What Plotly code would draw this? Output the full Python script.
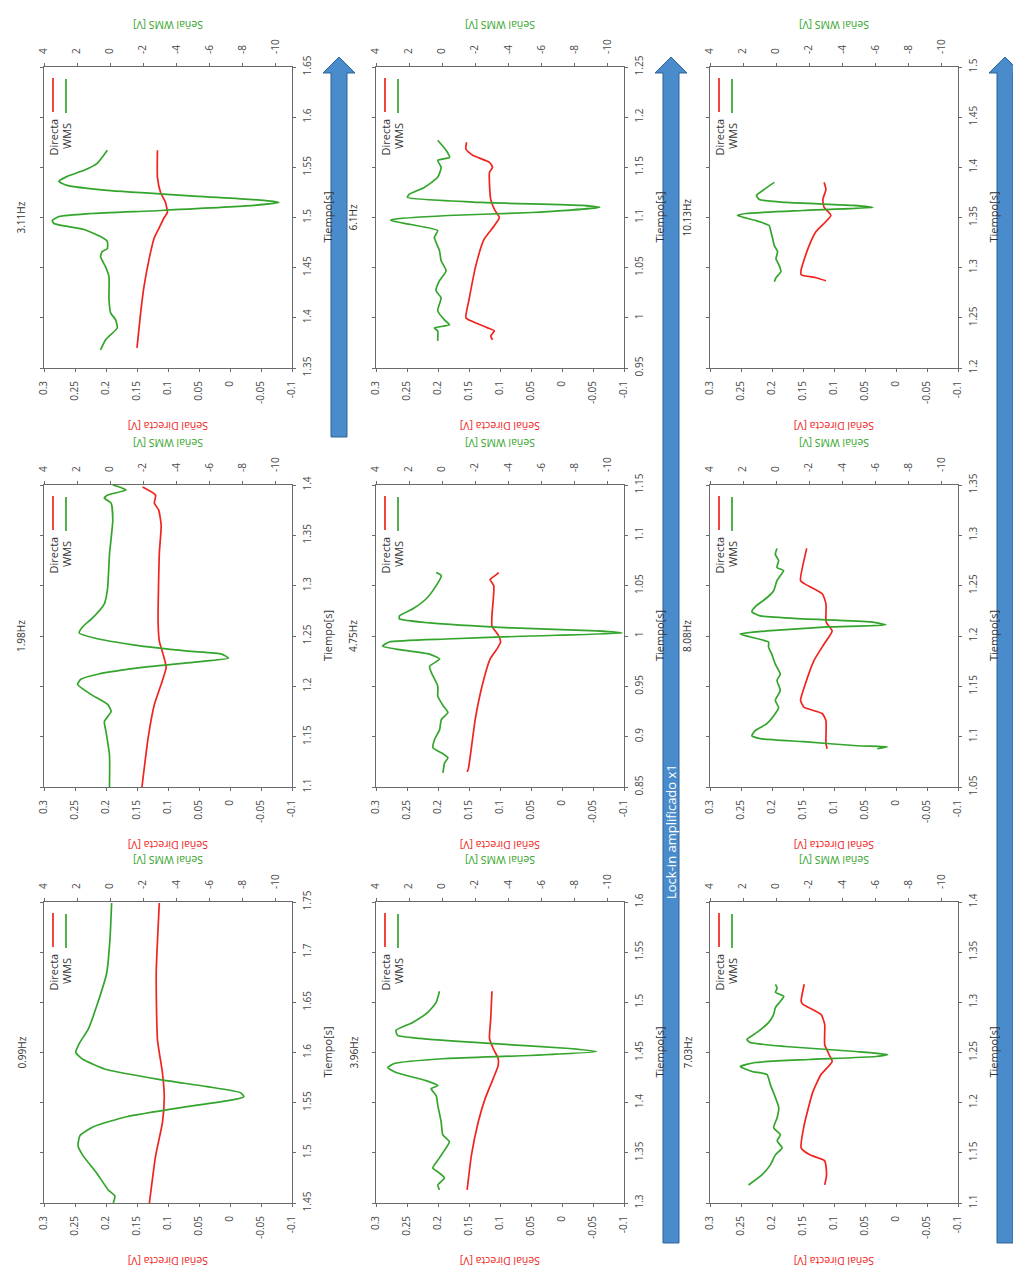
import plotly.graph_objects as go

# ---------------- data ----------------
FREQ_LABELS = ["3.11Hz", "1.98Hz", "0.99Hz", "6.1Hz", "4.75Hz", "3.96Hz", "10.13Hz", "8.08Hz", "7.03Hz"]
TIME_STARTS = [1.35, 1.10, 1.45, 0.95, 0.85, 1.30, 1.20, 1.05, 1.10]

SIG_TICKS = [0.3, 0.25, 0.2, 0.15, 0.1, 0.05, 0, -0.05, -0.1]
SIG_TEXT = ["0.3", "0.25", "0.2", "0.15", "0.1", "0.05", "0", "-0.05", "-0.1"]
WMS_TICKS = [4, 2, 0, -2, -4, -6, -8, -10]
WMS_TEXT = ["4", "2", "0", "-2", "-4", "-6", "-8", "-10"]

# Panel 1: 3.11 Hz
P1_T_DIR = [1.37, 1.40, 1.43, 1.46, 1.48, 1.49, 1.50, 1.505, 1.515, 1.525, 1.54, 1.567]
P1_DIR = [0.150, 0.145, 0.139, 0.130, 0.122, 0.114, 0.106, 0.101, 0.104, 0.112, 0.117, 0.117]
P1_T_WMS = [1.368, 1.378, 1.390, 1.398, 1.405, 1.418, 1.441, 1.451, 1.461, 1.466, 1.469, 1.476, 1.481,
            1.488, 1.494, 1.497, 1.501, 1.504, 1.507, 1.512, 1.515, 1.517, 1.521, 1.527, 1.532, 1.536,
            1.541, 1.547, 1.554, 1.560, 1.567]
P1_WMS = [0.58, 0.28, -0.43, -0.33, -0.03, 0.07, 0.07, 0.28, 0.58, 0.48, 0.17, 0.17, 0.58,
          1.58, 3.4, 3.5, 3.1, 1.18, -3.05, -8.68, -10.2, -9.3, -5.46, 0.17, 2.6, 3.1,
          2.6, 1.58, 0.78, 0.48, 0.17]

# Panel 2: 1.98 Hz
P2_T_DIR = [1.10, 1.149, 1.182, 1.202, 1.219, 1.232, 1.245, 1.265, 1.332, 1.36, 1.375, 1.382, 1.39, 1.398]
P2_DIR = [0.142, 0.132, 0.122, 0.111, 0.103, 0.108, 0.114, 0.116, 0.114, 0.111, 0.115, 0.122, 0.120, 0.141]
P2_T_WMS = [1.100, 1.132, 1.155, 1.165, 1.175, 1.182, 1.192, 1.202, 1.207, 1.212, 1.219, 1.225, 1.228,
            1.232, 1.235, 1.241, 1.248, 1.253, 1.259, 1.268, 1.282, 1.298, 1.331, 1.365, 1.382, 1.387,
            1.390, 1.395, 1.398, 1.400]
P2_WMS = [0.04, 0.04, 0.25, 0.35, -0.06, 0.15, 1.16, 1.97, 1.77, 0.75, -2.08, -5.74, -7.16,
          -6.75, -4.72, -1.48, 0.96, 1.87, 1.67, 1.06, 0.35, 0.15, 0.04, -0.16, -0.06, 0.35,
          0.15, -0.97, -0.56, -0.16]

# Panel 3: 0.99 Hz
P3_T_DIR = [1.45, 1.497, 1.53, 1.556, 1.58, 1.613, 1.679, 1.749]
P3_DIR = [0.130, 0.120, 0.109, 0.106, 0.109, 0.117, 0.119, 0.114]
P3_T_WMS = [1.450, 1.457, 1.463, 1.480, 1.497, 1.507, 1.517, 1.526, 1.536, 1.546, 1.553, 1.556, 1.560,
            1.566, 1.573, 1.583, 1.593, 1.600, 1.610, 1.623, 1.646, 1.679, 1.713, 1.749]
P3_WMS = [-0.19, -0.29, 0.11, 0.82, 1.63, 1.94, 1.83, 1.02, -1.0, -4.64, -7.48, -8.09, -7.88,
          -5.86, -3.02, 0.21, 1.63, 2.08, 1.83, 1.33, 0.82, 0.21, 0.01, -0.09]

# Panel 4: 6.1 Hz
P4_T_DIR = [0.978, 0.982, 0.987, 0.990, 0.997, 1.000, 1.018, 1.052, 1.078, 1.092, 1.100, 1.108, 1.118,
            1.145, 1.150, 1.155, 1.162, 1.168, 1.175]
P4_DIR = [0.112, 0.115, 0.109, 0.120, 0.147, 0.155, 0.150, 0.139, 0.126, 0.109, 0.101, 0.109, 0.115,
          0.117, 0.112, 0.117, 0.144, 0.155, 0.154]
P4_T_WMS = [0.977, 0.987, 0.990, 0.993, 0.998, 1.007, 1.020, 1.027, 1.037, 1.047, 1.057, 1.067, 1.080,
            1.087, 1.093, 1.097, 1.098, 1.102, 1.105, 1.110, 1.112, 1.115, 1.120, 1.123, 1.130, 1.140,
            1.150, 1.157, 1.160, 1.167, 1.177]
P4_WMS = [0.27, 0.27, 0.47, -0.45, -0.14, 0.27, 0.06, 0.37, 0.16, -0.24, 0.06, 0.16, 0.47,
          0.27, 1.9, 3.12, 3.0, -0.35, -5.45, -9.53, -8.5, -2.39, 2.1, 2.0, 1.08, 0.27,
          0.06, 0.27, -0.45, -0.24, 0.27]

# Panel 5: 4.75 Hz
P5_T_DIR = [0.865, 0.868, 0.917, 0.950, 0.977, 0.987, 0.994, 1.000, 1.010, 1.020, 1.050, 1.056, 1.060, 1.063]
P5_DIR = [0.153, 0.151, 0.140, 0.129, 0.116, 0.105, 0.099, 0.102, 0.113, 0.113, 0.110, 0.116, 0.108, 0.102]
P5_T_WMS = [0.864, 0.874, 0.879, 0.884, 0.889, 0.897, 0.907, 0.917, 0.924, 0.931, 0.940, 0.950, 0.964,
            0.970, 0.977, 0.982, 0.987, 0.990, 0.994, 0.997, 1.000, 1.003, 1.005, 1.008, 1.013, 1.017,
            1.020, 1.027, 1.037, 1.050, 1.060, 1.063]
P5_WMS = [-0.05, -0.15, -0.35, 0.05, 0.56, 0.46, 0.15, 0.05, -0.35, -0.05, 0.26, 0.26, 0.66,
          0.76, 0.15, 0.76, 2.79, 3.6, 3.2, -0.25, -5.31, -10.88, -9.36, -4.3, 0.76, 2.58,
          2.58, 1.77, 0.96, 0.36, 0.05, 0.36]

# Panel 6: 3.96 Hz
P6_T_DIR = [1.313, 1.348, 1.381, 1.404, 1.424, 1.437, 1.444, 1.454, 1.464, 1.483, 1.511]
P6_DIR = [0.153, 0.146, 0.135, 0.124, 0.111, 0.103, 0.103, 0.111, 0.117, 0.115, 0.113]
P6_T_WMS = [1.313, 1.318, 1.325, 1.331, 1.335, 1.345, 1.355, 1.361, 1.368, 1.381, 1.397, 1.407, 1.414,
            1.417, 1.422, 1.430, 1.435, 1.439, 1.444, 1.447, 1.451, 1.454, 1.459, 1.464, 1.467, 1.472,
            1.480, 1.490, 1.500, 1.511]
P6_WMS = [0.16, 0.26, -0.14, 0.26, 0.57, 0.16, -0.24, -0.44, -0.04, 0.06, 0.26, 0.36, 0.67,
          0.26, 0.97, 2.79, 3.29, 2.89, -0.24, -5.29, -9.33, -7.72, -2.87, 1.37, 2.69, 2.79,
          1.78, 0.87, 0.36, 0.16]

# Panel 7: 10.13 Hz
P7_T_DIR = [1.287, 1.290, 1.293, 1.298, 1.319, 1.336, 1.346, 1.352, 1.355, 1.360, 1.368, 1.378, 1.385]
P7_DIR = [0.113, 0.129, 0.153, 0.153, 0.142, 0.129, 0.113, 0.105, 0.108, 0.116, 0.118, 0.113, 0.116]
P7_T_WMS = [1.286, 1.290, 1.296, 1.302, 1.309, 1.316, 1.322, 1.329, 1.336, 1.342, 1.347, 1.352, 1.354,
            1.357, 1.360, 1.362, 1.365, 1.368, 1.372, 1.378, 1.385]
P7_WMS = [0.11, 0.01, -0.29, -0.19, 0.01, -0.09, 0.11, 0.21, 0.32, 0.42, 1.23, 2.34, 1.83,
          -1.61, -5.86, -4.64, -0.6, 1.02, 1.19, 0.72, 0.11]

# Panel 8: 8.08 Hz
P8_T_DIR = [1.088, 1.093, 1.116, 1.123, 1.129, 1.136, 1.149, 1.176, 1.192, 1.205, 1.212, 1.215, 1.232,
            1.242, 1.252, 1.255, 1.287]
P8_DIR = [0.111, 0.113, 0.113, 0.119, 0.148, 0.154, 0.148, 0.132, 0.116, 0.103, 0.111, 0.113, 0.113,
          0.119, 0.148, 0.154, 0.144]
P8_T_WMS = [1.088, 1.090, 1.091, 1.095, 1.098, 1.101, 1.106, 1.113, 1.123, 1.129, 1.136, 1.146, 1.156,
            1.162, 1.172, 1.182, 1.189, 1.194, 1.199, 1.202, 1.205, 1.209, 1.211, 1.214, 1.217, 1.220,
            1.224, 1.229, 1.238, 1.245, 1.255, 1.265, 1.268, 1.275, 1.281, 1.287]
P8_WMS = [-6.12, -6.73, -4.9, -1.67, 0.96, 1.47, 1.27, 0.56, 0.05, -0.15, 0.05, -0.25, -0.05,
          -0.25, 0.05, 0.26, 0.46, 0.46, 1.57, 2.18, 0.56, -3.09, -6.63, -5.72, -1.67, 0.96,
          1.47, 1.27, 0.56, 0.15, -0.05, -0.45, -0.05, -0.15, 0.05, -0.05]

# Panel 9: 7.03 Hz
P9_T_DIR = [1.118, 1.128, 1.142, 1.148, 1.155, 1.178, 1.211, 1.228, 1.241, 1.248, 1.258, 1.278, 1.288,
            1.298, 1.301, 1.318]
P9_DIR = [0.115, 0.112, 0.115, 0.139, 0.153, 0.148, 0.134, 0.121, 0.103, 0.108, 0.115, 0.115, 0.121,
          0.150, 0.153, 0.148]
P9_T_WMS = [1.118, 1.128, 1.138, 1.148, 1.155, 1.162, 1.168, 1.175, 1.185, 1.195, 1.205, 1.218, 1.228,
            1.231, 1.236, 1.240, 1.243, 1.246, 1.248, 1.251, 1.256, 1.260, 1.263, 1.270, 1.280, 1.288,
            1.295, 1.301, 1.306, 1.310, 1.314, 1.318]
P9_WMS = [1.67, 0.86, 0.35, 0.04, -0.36, -0.06, -0.26, 0.15, -0.06, -0.16, 0.04, 0.35, 0.55,
          1.46, 2.17, 1.26, -1.98, -6.04, -6.75, -4.82, -0.56, 1.57, 1.77, 1.16, 0.45, 0.15,
          0.04, -0.26, -0.46, 0.04, -0.06, 0.04]

PANELS = [
    (P1_T_DIR, P1_DIR, P1_T_WMS, P1_WMS),
    (P2_T_DIR, P2_DIR, P2_T_WMS, P2_WMS),
    (P3_T_DIR, P3_DIR, P3_T_WMS, P3_WMS),
    (P4_T_DIR, P4_DIR, P4_T_WMS, P4_WMS),
    (P5_T_DIR, P5_DIR, P5_T_WMS, P5_WMS),
    (P6_T_DIR, P6_DIR, P6_T_WMS, P6_WMS),
    (P7_T_DIR, P7_DIR, P7_T_WMS, P7_WMS),
    (P8_T_DIR, P8_DIR, P8_T_WMS, P8_WMS),
    (P9_T_DIR, P9_DIR, P9_T_WMS, P9_WMS),
]

# ---------------- layout geometry (pixels) ----------------
W, H = 1013, 1278
COLS = [(44, 292), (376, 624), (710, 958)]
ROWS = [(67, 368), (485, 787), (902, 1203)]

RED = "#f0241c"
GREEN = "#34a52c"
FRAME = "#6a6a6a"
TICKC = "#4a4a4a"
FONT = "Open Sans"


def px(x):
    return x / W


def py(y):
    return 1 - y / H


def fmt(v):
    s = f"{v:.2f}".rstrip("0").rstrip(".")
    return s


fig = go.Figure()
layout = dict(
    width=W, height=H,
    margin=dict(l=0, r=0, t=0, b=0, pad=0, autoexpand=False),
    paper_bgcolor="white", plot_bgcolor="white",
    showlegend=False,
    font=dict(family=FONT, size=10, color=TICKC),
)
annotations = []
shapes = []


def aname(kind, n):
    return kind if n == 1 else f"{kind}{n}"


for i, (t_dir, v_dir, t_wms, v_wms) in enumerate(PANELS):
    c, r = divmod(i, 3)
    left, right = COLS[c]
    top, bottom = ROWS[r]
    xa, xb, ya = 2 * i + 1, 2 * i + 2, i + 1
    xa_ref, xb_ref, ya_ref = aname("x", xa), aname("x", xb), aname("y", ya)
    t0 = TIME_STARTS[i]
    tvals = [round(t0 + 0.05 * k, 2) for k in range(7)]

    fig.add_trace(go.Scatter(x=v_dir, y=t_dir, mode="lines", xaxis=xa_ref, yaxis=ya_ref,
                             line=dict(color=RED, width=1.7, shape="spline", smoothing=0.5),
                             name="Directa"))
    fig.add_trace(go.Scatter(x=v_wms, y=t_wms, mode="lines", xaxis=xb_ref, yaxis=ya_ref,
                             line=dict(color=GREEN, width=1.7, shape="spline", smoothing=0.5),
                             name="WMS"))

    common = dict(showgrid=False, zeroline=False, showline=True, linecolor=FRAME, linewidth=1,
                  ticks="outside", ticklen=3, tickcolor=FRAME, tickangle=-90, automargin=False,
                  tickfont=dict(size=10, color=TICKC, family=FONT))
    layout[aname("xaxis", xa)] = dict(
        domain=[px(left), px(right)], anchor=ya_ref, range=[0.3, -0.1], side="bottom",
        tickmode="array", tickvals=SIG_TICKS, ticktext=SIG_TEXT, ticklabelstandoff=5, **common)
    layout[aname("xaxis", xb)] = dict(
        overlaying=xa_ref, anchor=ya_ref, range=[4, -11], side="top",
        tickmode="array", tickvals=WMS_TICKS, ticktext=WMS_TEXT, ticklabelstandoff=7, **common)
    layout[aname("yaxis", ya)] = dict(
        domain=[py(bottom), py(top)], anchor=xa_ref, range=[t0, t0 + 0.3], side="right",
        tickmode="array", tickvals=tvals, ticktext=[fmt(v) for v in tvals], mirror="ticks",
        ticklabelstandoff=3, **common)

    cx = (left + right) / 2
    cy = (top + bottom) / 2
    annotations += [
        dict(x=px(left - 23), y=py(cy), text=FREQ_LABELS[i], textangle=-90, showarrow=False,
             xref="paper", yref="paper", xanchor="center", yanchor="middle",
             font=dict(size=10, color="#333")),
        dict(x=px(right + 35), y=py(cy), text="Tiempo[s]", textangle=-90, showarrow=False,
             xref="paper", yref="paper", xanchor="center", yanchor="middle",
             font=dict(size=11, color="#333")),
        dict(x=px(cx), y=py(top - 42), text="Señal WMS [V]", textangle=180, showarrow=False,
             xref="paper", yref="paper", xanchor="center", yanchor="middle",
             font=dict(size=10.5, color=GREEN)),
        dict(x=px(cx), y=py(bottom + 58), text="Señal Directa [V]", textangle=180, showarrow=False,
             xref="paper", yref="paper", xanchor="center", yanchor="middle",
             font=dict(size=10.5, color=RED)),
        dict(x=px(left + 9), y=py(top + 50), text="Directa", textangle=-90, showarrow=False,
             xref="paper", yref="paper", xanchor="center", yanchor="top",
             font=dict(size=11, color="#333")),
        dict(x=px(left + 22), y=py(top + 54), text="WMS", textangle=-90, showarrow=False,
             xref="paper", yref="paper", xanchor="center", yanchor="top",
             font=dict(size=11, color="#333")),
    ]
    shapes += [
        dict(type="line", xref="paper", yref="paper", x0=px(left + 9), x1=px(left + 9),
             y0=py(top + 11), y1=py(top + 45), line=dict(color=RED, width=1.7)),
        dict(type="line", xref="paper", yref="paper", x0=px(left + 22), x1=px(left + 22),
             y0=py(top + 12), y1=py(top + 46), line=dict(color=GREEN, width=1.7)),
    ]


def arrow_path(xc, y_tip, y_base, y_bot, hb, hh):
    pts = [(xc - hb, y_bot), (xc - hb, y_base), (xc - hh, y_base), (xc, y_tip),
           (xc + hh, y_base), (xc + hb, y_base), (xc + hb, y_bot)]
    return "M " + " L ".join(f"{px(a):.5f},{py(b):.5f}" for a, b in pts) + " Z"


for xc, ybot in [(339, 437), (671, 1243), (1005, 1243)]:
    shapes.append(dict(type="path", xref="paper", yref="paper",
                       path=arrow_path(xc, 57, 73, ybot, 8, 16),
                       fillcolor="#4a8bcb", line=dict(color="#2d6398", width=1)))

annotations.append(dict(x=px(671), y=py(832), text="Lock-in amplificado x1", textangle=-90,
                        showarrow=False, xref="paper", yref="paper",
                        xanchor="center", yanchor="middle",
                        font=dict(size=13, color="white", family=FONT)))

layout["annotations"] = annotations
layout["shapes"] = shapes
fig.update_layout(**layout)
fig.write_html("out.html", config={"displayModeBar": False},
               post_script="document.body.style.margin='0';document.body.style.padding='0';")
